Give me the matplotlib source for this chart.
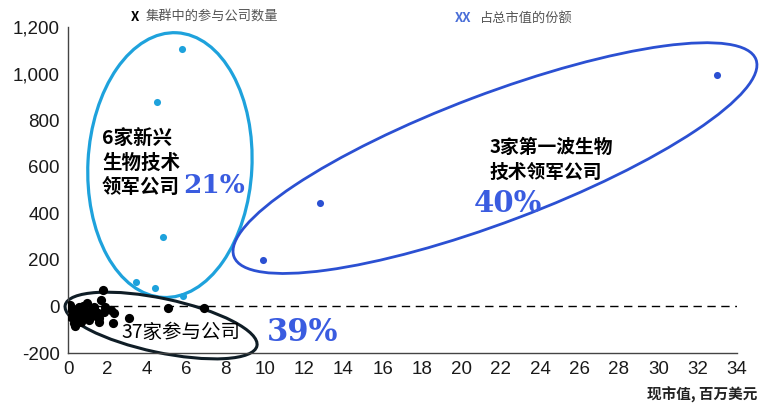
import matplotlib
matplotlib.use("Agg")
import matplotlib.pyplot as plt
import matplotlib.transforms as mtransforms
from matplotlib.patches import Ellipse

# market value (USD mn) vs. value change, by cluster
emerging_x = [5.8, 4.5, 4.85, 3.45, 4.4, 5.85]
emerging_y = [1105, 880, 300, 105, 80, 45]

first_wave_x = [33.0, 12.8, 9.9]
first_wave_y = [995, 445, 200]

others_x = [0.3, 0.56, 0.97, 1.3, 0.4, 0.7, 0.97, 1.57, 1.5, 1.9,
            2.2, 2.35, 2.3, 3.1, 1.78, 1.68, 5.1, 6.9, 0.2, 0.12,
            0.6, 0.77, 0.5, 0.85, 1.1, 1.2, 1.4, 0.35, 0.65, 1.05,
            0.25, 0.45, 1.6, 1.85, 0.9, 0.15, 1.35]
others_y = [-72, -3, 15, -3, -37, -50, -30, -50, -30, -3,
            -15, -30, -72, -50, 70, 26, -5, -5, -15, 5,
            -15, 0, -55, -20, -45, -10, -40, -85, -65, -60,
            -30, -10, -65, -25, -35, -45, -20]

x_ticks = list(range(0, 35, 2))
y_ticks = [-200, 0, 200, 400, 600, 800, 1000, 1200]

light_blue = "#1ea2dc"
blue = "#2b50d2"
pct_blue = "#3a5ce0"
cjk = ["Noto Sans CJK SC", "DejaVu Sans"]

plt.rcParams["font.family"] = ["Liberation Sans", "DejaVu Sans"]

fig = plt.figure(figsize=(7.6, 4.04), dpi=100)
ax = fig.add_axes([68 / 760, 51 / 404, (737 - 68) / 760, (353 - 27) / 404])

ax.scatter(emerging_x, emerging_y, s=26, color=light_blue, zorder=3, linewidths=0)
ax.scatter(first_wave_x, first_wave_y, s=26, color=blue, zorder=3, linewidths=0)
ax.scatter(others_x, others_y, s=44, color="black", zorder=3, linewidths=0)

ax.axhline(0, color="black", lw=1, dashes=(6, 4), zorder=1)

ax.set_xlim(0, 34)
ax.set_ylim(-200, 1200)
ax.set_xticks(x_ticks)
ax.set_yticks(y_ticks)
ax.set_yticklabels([f"{v:,}" for v in y_ticks])
ax.tick_params(length=0, labelsize=13.5, labelcolor="#1a1a1a", pad=6)
for side in ["top", "right"]:
    ax.spines[side].set_visible(False)
for side in ["left", "bottom"]:
    ax.spines[side].set_color("#444444")
    ax.spines[side].set_linewidth(1)


def cluster_ring(cx, cy, w_in, h_in, angle, color, lw):
    # ellipse sized in inches, anchored at a data point
    tr = fig.dpi_scale_trans + mtransforms.ScaledTranslation(cx, cy, ax.transData)
    ax.add_patch(Ellipse((0, 0), w_in, h_in, angle=angle, transform=tr,
                         fill=False, edgecolor=color, lw=lw, clip_on=False, zorder=2))


cluster_ring(5.18, 607, 1.64, 2.65, -3, light_blue, 2.3)
cluster_ring(21.7, 637, 5.58, 1.28, 20.7, blue, 2.0)
cluster_ring(4.73, -82, 1.96, 0.54, -12, "#0f1d26", 2.2)

ax.text(1.73, 616, "6家新兴\n生物技术\n领军公司", family=cjk, fontsize=14, fontweight="bold",
        ha="left", va="center", linespacing=1.35, zorder=4)
ax.text(5.84, 521, "21%", family="DejaVu Serif", fontsize=19, fontweight="bold",
        color=pct_blue, ha="left", va="center", zorder=4)

ax.text(21.4, 630, "3家第一波生物\n技术领军公司", family=cjk, fontsize=13.5, fontweight="bold",
        ha="left", va="center", linespacing=1.38, zorder=4)
ax.text(22.36, 444, "40%", family="DejaVu Serif", fontsize=21, fontweight="bold",
        color=pct_blue, ha="center", va="center", zorder=4)

ax.text(2.74, -114, "37家参与公司", family=cjk, fontsize=14,
        ha="left", va="center", zorder=4)
ax.text(10.1, -114, "39%", family="DejaVu Serif", fontsize=22, fontweight="bold",
        color=pct_blue, ha="left", va="center", zorder=4)

# legend-like headers above the plot
fig.text(131 / 760, 1 - 17 / 404, "X", family=cjk, fontsize=9.5, fontweight="bold",
         ha="left", va="center")
fig.text(146 / 760, 1 - 17 / 404, "集群中的参与公司数量", family=cjk, fontsize=9.5,
         color="#555555", ha="left", va="center")
fig.text(455 / 760, 1 - 18 / 404, "XX", family=cjk, fontsize=9.5, fontweight="bold",
         color="#4a6fd8", ha="left", va="center")
fig.text(480 / 760, 1 - 18 / 404, "占总市值的份额", family=cjk, fontsize=9.5,
         color="#555555", ha="left", va="center")

fig.text(757 / 760, 1 - 395 / 404, "现市值, 百万美元", family=cjk, fontsize=10.5,
         fontweight="bold", color="#222222", ha="right", va="center")

fig.savefig("out.png", dpi=100, facecolor="white")
